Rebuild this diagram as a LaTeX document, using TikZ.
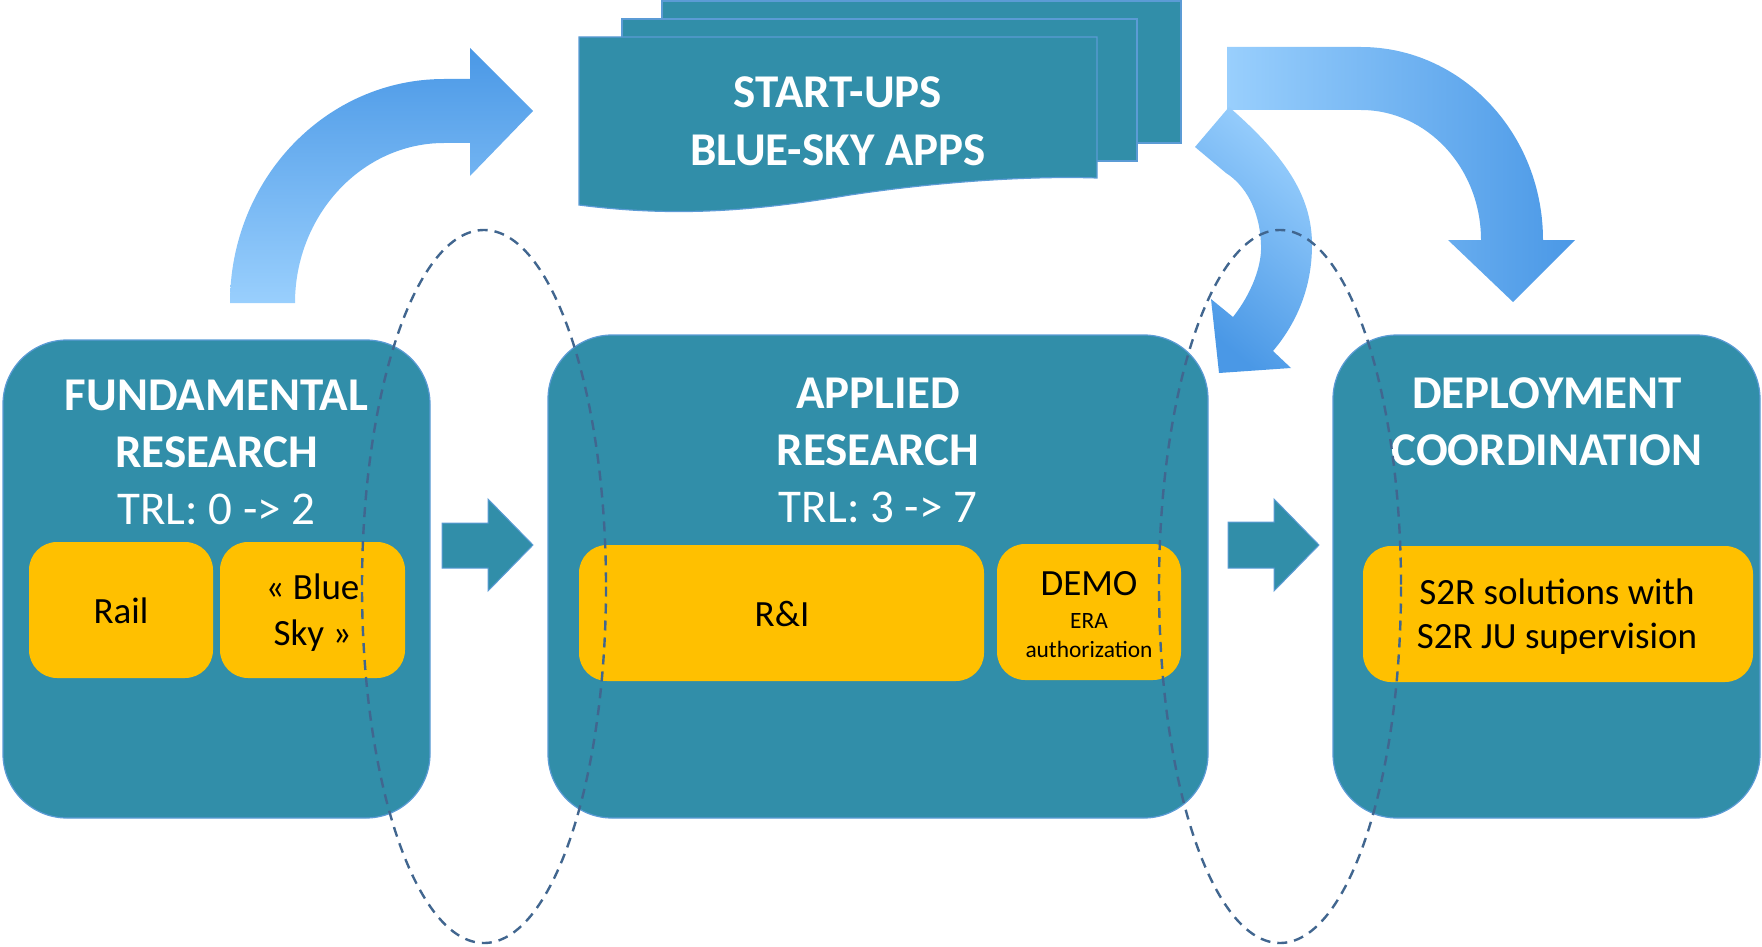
\documentclass[tikz,border=0pt]{standalone}
\usepackage{fontspec}
\setmainfont{Carlito}
\definecolor{boxteal}{HTML}{318EA9}
\definecolor{boxedge}{HTML}{5B9BD5}
\definecolor{gold}{HTML}{FFC000}
\definecolor{arrlight}{HTML}{99CFFD}
\definecolor{arrdark}{HTML}{4A98E6}
\definecolor{dashcol}{HTML}{41668F}
\begin{document}
\begin{tikzpicture}[x=0.5pt,y=-0.5pt,
  bigbox/.style={fill=boxteal, draw=boxedge, line width=0.6pt, rounded corners=32pt, inner sep=0pt},
  ybox/.style={fill=gold, rounded corners=14pt, inner sep=0pt},
  page/.style={fill=boxteal, draw=boxedge, line width=0.6pt},
  blockarrow/.style={fill=boxteal, draw=boxedge, line width=0.5pt},
  ttl/.style={text=white, font=\bfseries\fontsize{23.5}{28}\selectfont, anchor=base, inner sep=0pt},
  trl/.style={text=white, font=\fontsize{23.5}{28}\selectfont, anchor=base, inner sep=0pt},
  ytxt/.style={text=black, font=\fontsize{18.5}{22}\selectfont, anchor=base, inner sep=0pt},
  stxt/.style={text=black, font=\fontsize{11.7}{14}\selectfont, anchor=base, inner sep=0pt},
  ring/.style={draw=dashcol, line width=1.2pt, dash pattern=on 5pt off 3.5pt}
]
\useasboundingbox (0,0) rectangle (1762,947);

% curved arrows
\shade[top color=arrdark, middle color=arrlight, bottom color=arrlight]
  (230,303) .. controls (230,179) and (326,79) .. (444,79) -- (470,79) -- (470,48)
  -- (533,111) -- (470,176) -- (470,143) -- (444,143)
  .. controls (362,143) and (295,215) .. (295,303) -- cycle;
\shade[left color=arrlight, middle color=arrlight, right color=arrdark]
  (1227,47) -- (1361,47) .. controls (1461,47) and (1543,133) .. (1543,240)
  -- (1575,240) -- (1513,302) -- (1448,240) -- (1481,240)
  .. controls (1481,168) and (1427,110) .. (1361,110) -- (1227,110) -- cycle;
\shade[top color=arrlight, middle color=arrlight, bottom color=arrdark, shading angle=-40]
  (1229,107) .. controls (1290,160) and (1312,200) .. (1312,245)
  .. controls (1312,290) and (1295,325) .. (1273,351) -- (1291,368) -- (1219,373)
  -- (1211,299) -- (1233,317) .. controls (1252,293) and (1262,265) .. (1261,245)
  .. controls (1260,210) and (1245,185) .. (1226,173) -- (1195,147) -- cycle;

% start-ups pages
\draw[page] (662,1) rectangle (1181,143);
\draw[page] (622,19) rectangle (1137,161);
\draw[page] (579,37) -- (1097,37) -- (1097,178)
  .. controls (1040,176) and (950,180) .. (850,195)
  .. controls (760,210) and (680,218) .. (579,205) -- cycle;
\node[ttl] (su1) at (838,108) {START-UPS};
\node[ttl] (su2) at (838,166) {BLUE-SKY APPS};

% main boxes
\node[bigbox, minimum width=213.5pt, minimum height=239pt] (fund) at (216.5,579) {};
\node[bigbox, minimum width=330pt, minimum height=241.5pt] (appl) at (878,576.5) {};
\node[bigbox, minimum width=213.5pt, minimum height=241.5pt] (depl) at (1546.5,576.5) {};

% block arrows between boxes
\draw[blockarrow] (442,523) -- (488,523) -- (488,499) -- (533,545) -- (488,591) -- (488,568) -- (442,568) -- cycle;
\draw[blockarrow] (1228,522) -- (1274,522) -- (1274,499) -- (1319,545) -- (1274,591) -- (1274,568) -- (1228,568) -- cycle;

% titles
\node[ttl] (f1) at (216.5,410) {FUNDAMENTAL};
\node[ttl] (f2) at (216.5,467) {RESEARCH};
\node[trl] (f3) at (216.5,524) {TRL: 0 -> 2};
\node[ttl] (a1) at (878,408) {APPLIED};
\node[ttl] (a2) at (878,465) {RESEARCH};
\node[trl] (a3) at (878,522) {TRL: 3 -> 7};
\node[ttl] (d1) at (1547,408) {DEPLOYMENT};
\node[ttl] (d2) at (1547,465) {COORDINATION};

% yellow boxes
\node[ybox, minimum width=92pt, minimum height=68pt] (rail) at (121,610) {};
\node[ybox, minimum width=92.5pt, minimum height=68pt] (bsky) at (312.5,610) {};
\node[ybox, minimum width=202.5pt, minimum height=68pt] (ri) at (781.5,613) {};
\node[ybox, minimum width=92pt, minimum height=68pt] (demo) at (1089,612) {};
\node[ybox, minimum width=195pt, minimum height=68pt] (s2r) at (1558,614) {};

\node[ytxt] (railt) at (121,623) {Rail};
\node[ytxt] (bsky1) at (312.5,599) {« Blue};
\node[ytxt] (bsky2) at (312.5,645) {Sky »};
\node[ytxt] (rit) at (782,626) {R\&I};
\node[ytxt] (demo1) at (1089,595) {DEMO};
\node[stxt] (demo2) at (1089,628) {ERA};
\node[stxt] (demo3) at (1089,657) {authorization};
\node[ytxt] (s2r1) at (1557,604) {S2R solutions with};
\node[ytxt] (s2r2) at (1557,648) {S2R JU supervision};

% dashed rings
\draw[ring] (484,586.5) ellipse [x radius=122, y radius=356.5];
\draw[ring] (1280,586.5) ellipse [x radius=121, y radius=356.5];
\end{tikzpicture}
\end{document}
